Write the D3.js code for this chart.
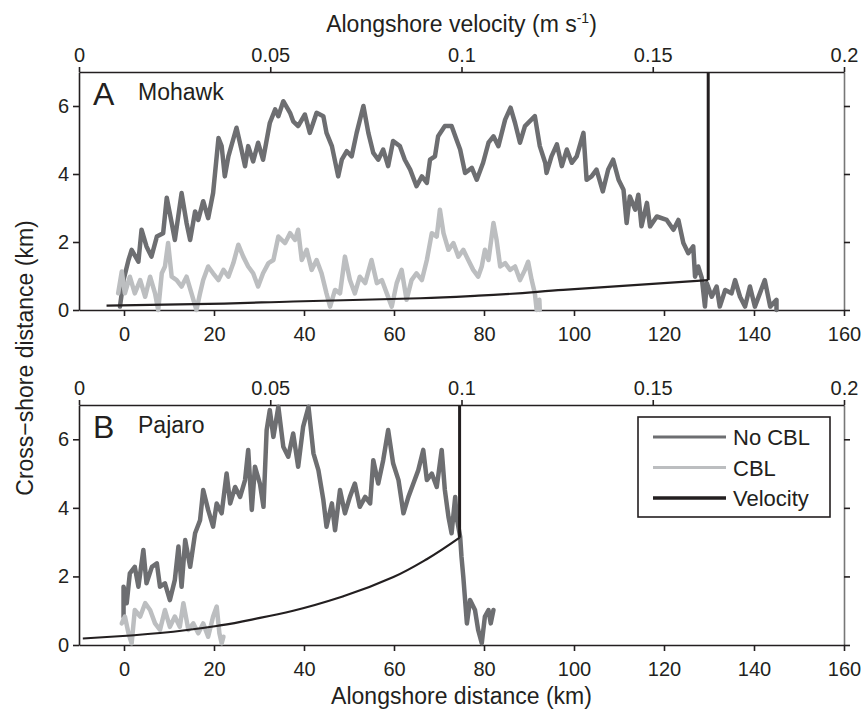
<!DOCTYPE html>
<html>
<head>
<meta charset="utf-8">
<script src="https://cdn.jsdelivr.net/npm/d3@7"></script>
<style>
  body { margin: 0; background: #fff; }
  svg { display: block; font-family: 'Liberation Sans', Arial, sans-serif; }
</style>
</head>
<body>
<div id="chart"></div>
<script>
// tick values
const distTicks = [0, 20, 40, 60, 80, 100, 120, 140, 160];
const velTicks = [0, 0.05, 0.1, 0.15, 0.2];
const velTickLabels = ['0', '0.05', '0.1', '0.15', '0.2'];
const crossTicks = [0, 2, 4, 6];

// tracks: [alongshore km, cross-shore km]
const mohawkNoCbl = [[-0.9,0.1],[-0.1,0.88],[1.0,1.47],[1.7,1.77],[3.2,1.42],[3.9,2.36],[5.0,1.87],[6.1,1.57],[7.3,2.16],[8.7,2.26],[9.5,3.3],[10.6,2.56],[11.3,2.06],[12.8,3.44],[13.9,2.56],[14.7,2.06],[15.8,2.9],[16.5,2.65],[17.6,3.2],[18.7,2.7],[19.8,3.44],[21.0,5.06],[21.7,4.82],[22.4,3.93],[23.2,4.52],[25.0,5.36],[26.1,4.72],[26.9,4.23],[27.6,4.82],[28.7,4.37],[29.8,4.92],[30.9,4.42],[32.4,5.5],[33.6,5.9],[34.3,5.7],[35.4,6.14],[36.9,5.8],[37.6,5.55],[38.7,5.41],[40.2,5.75],[41.3,5.21],[42.8,5.8],[44.3,5.7],[45.0,5.21],[46.2,4.82],[47.6,3.93],[48.4,4.42],[49.5,4.67],[50.6,4.52],[51.7,5.21],[53.2,6.0],[54.3,5.21],[55.4,4.62],[56.5,4.42],[57.6,4.72],[58.7,4.23],[59.8,4.97],[61.3,4.82],[62.4,4.42],[63.6,4.13],[65.0,3.64],[66.2,3.93],[67.3,3.74],[68.0,4.42],[69.1,4.52],[69.8,5.11],[71.3,5.41],[72.8,5.41],[73.9,5.01],[74.7,4.72],[75.8,4.03],[77.3,4.18],[78.4,3.83],[79.8,4.33],[81.0,4.92],[82.1,5.11],[83.2,4.82],[84.7,5.6],[85.9,5.95],[86.9,5.5],[88.0,4.92],[89.1,5.41],[91.3,5.7],[92.4,4.82],[93.6,4.33],[93.9,4.03],[95.0,4.52],[96.2,4.87],[97.3,4.23],[98.4,4.72],[99.5,4.33],[100.6,4.52],[102.1,5.21],[102.8,3.83],[103.9,3.93],[105.0,4.13],[106.4,3.49],[107.6,4.13],[108.7,4.42],[109.9,3.83],[111.0,3.54],[111.7,2.56],[112.4,3.34],[113.6,2.95],[114.3,3.39],[115.0,2.46],[116.2,3.15],[116.9,2.46],[118.4,2.75],[120.6,2.65],[122.1,2.36],[123.2,2.65],[124.3,1.97],[125.4,1.67],[126.5,1.87],[126.9,0.98],[127.6,1.28],[128.4,0.94],[129.1,0.1],[129.5,0.79],[130.6,0.39],[131.7,0.69],[132.4,0.1],[133.6,0.59],[135.0,0.49],[135.8,0.88],[136.9,0.39],[138.0,0.1],[139.1,0.69],[140.2,0.1],[141.3,0.49],[142.4,0.88],[143.6,0.1],[145.0,0.3],[145.0,0.0]];

const mohawkCbl = [[-1.3,0.49],[-0.5,1.13],[0.2,0.49],[1.3,0.98],[2.4,0.49],[3.6,0.88],[4.7,0.39],[5.8,0.98],[6.9,0.49],[7.6,0.0],[8.4,1.08],[9.1,1.28],[9.8,1.97],[10.6,0.98],[11.7,0.88],[12.8,0.69],[13.9,0.98],[15.0,0.49],[16.1,0.0],[16.9,0.49],[17.6,0.88],[18.7,1.28],[19.8,1.08],[21.0,0.88],[22.1,1.18],[23.2,0.98],[24.3,1.38],[25.4,1.92],[26.5,1.57],[27.6,1.28],[28.7,1.08],[29.8,0.69],[30.9,1.08],[32.1,1.38],[33.2,1.47],[34.3,2.16],[35.8,1.97],[36.9,2.26],[38.0,2.06],[38.7,2.36],[39.5,1.47],[40.6,1.77],[41.7,1.18],[42.8,1.47],[43.9,1.08],[45.0,0.49],[45.8,0.1],[46.9,0.59],[48.0,0.49],[49.1,1.57],[50.2,0.88],[51.3,0.49],[52.4,0.98],[53.6,0.79],[55.0,1.47],[56.2,0.79],[57.3,0.88],[58.4,0.49],[59.5,0.1],[60.6,0.79],[61.7,1.18],[62.8,0.3],[63.9,0.88],[65.0,1.08],[66.2,0.88],[67.3,1.47],[68.4,2.26],[69.5,2.16],[70.2,2.95],[71.0,2.26],[72.1,1.77],[73.2,1.97],[74.3,1.57],[75.4,1.77],[76.5,1.47],[77.6,1.18],[78.7,0.98],[79.5,1.28],[80.2,1.77],[81.0,1.47],[82.1,2.56],[82.8,2.06],[83.6,1.28],[84.7,1.38],[85.8,1.18],[86.9,1.28],[88.0,0.88],[89.1,1.18],[89.8,1.42],[90.6,0.88],[91.3,0.49],[91.7,0.0],[92.3,0.3],[92.4,0.0]];

const pajaroNoCbl = [[-0.1,0.82],[-0.1,1.7],[0.6,1.22],[1.3,2.09],[2.4,2.28],[3.2,1.7],[4.3,2.77],[5.0,1.8],[6.2,2.28],[7.3,2.38],[8.0,1.7],[9.1,1.8],[10.2,1.31],[11.3,1.9],[12.1,2.87],[12.8,1.7],[13.6,3.06],[14.7,2.28],[15.8,3.26],[16.9,3.64],[17.6,4.52],[18.7,3.94],[19.8,3.45],[20.6,4.13],[21.7,3.84],[22.8,5.0],[23.6,4.13],[24.7,4.61],[25.8,4.32],[26.9,4.81],[27.6,5.69],[28.4,3.94],[29.1,5.2],[30.2,4.71],[31.0,4.03],[31.7,6.27],[32.4,6.85],[33.2,6.07],[34.3,6.95],[35.4,5.78],[36.5,5.49],[37.6,6.17],[38.7,5.2],[39.8,6.36],[41.0,6.95],[42.1,5.59],[43.2,5.1],[44.3,4.23],[45.0,3.45],[46.2,4.13],[46.9,3.35],[48.0,4.52],[49.1,3.84],[50.2,4.32],[51.3,4.71],[52.4,4.03],[53.6,4.32],[54.7,4.13],[55.4,5.39],[56.5,4.71],[57.6,5.39],[58.7,6.27],[59.8,5.3],[61.0,4.81],[62.1,3.84],[63.2,4.32],[64.3,4.71],[65.4,5.1],[66.5,5.69],[67.3,4.81],[68.4,5.0],[69.5,4.61],[70.6,5.69],[71.3,4.52],[72.1,3.74],[72.8,3.26],[73.6,4.32],[73.9,3.74],[74.7,3.16],[75.0,2.57],[75.4,1.99],[75.8,1.31],[76.2,0.63],[76.9,1.31],[78.0,1.02],[78.7,0.44],[79.5,0.05],[80.2,0.83],[81.0,1.02],[81.5,0.63],[82.1,1.02]];

const pajaroCbl = [[-0.5,0.63],[0.2,0.83],[1.0,0.34],[1.7,0.05],[2.4,1.02],[3.6,0.83],[4.7,1.22],[5.8,1.02],[6.9,0.63],[8.0,0.44],[9.1,1.02],[10.2,0.53],[11.3,0.83],[12.4,0.53],[13.2,1.22],[14.3,0.44],[15.4,0.63],[16.5,0.34],[17.6,0.63],[18.7,0.24],[19.8,0.83],[20.6,1.12],[21.2,0.34],[21.7,0.05],[22.1,0.24]];

// velocity profiles: [alongshore velocity m/s, cross-shore km]
const mohawkVelocity = [[0.0072,0.13],[0.03,0.17],[0.056,0.25],[0.0892,0.345],[0.1044,0.42],[0.1266,0.59],[0.1645,0.88],[0.1645,7]];
const pajaroVelocity = [[0.001,0.19],[0.0125,0.27],[0.0212,0.35],[0.0369,0.57],[0.0473,0.79],[0.056,1.0],[0.0691,1.42],[0.0822,1.98],[0.0909,2.5],[0.0995,3.13],[0.0995,7]];

const legendItems = ['No CBL', 'CBL', 'Velocity'];
const colors = { 'No CBL': '#6d6e71', 'CBL': '#bcbec0', 'Velocity': '#231f20' };

var width = 861, height = 710;
var left = 79, right = 844;

var svg = d3.select('#chart').append('svg')
    .attr('width', width)
    .attr('height', height);

var x = d3.scaleLinear().domain([-10, 160]).range([left, right]);
var u = d3.scaleLinear().domain([0, 0.2]).range([left, right]);

function styleAxis(g, color) {
    g.select('.domain').attr('stroke', color).attr('stroke-width', 1.6);
    g.selectAll('.tick line').attr('stroke', '#231f20').attr('stroke-width', 1.6);
    g.selectAll('.tick text').attr('fill', '#231f20').attr('font-size', 20)
        .attr('font-family', "'Liberation Sans', Arial, sans-serif");
}

function panel(top, bottom, noCbl, cbl, vel, letter, name) {
    var y = d3.scaleLinear().domain([0, 7]).range([bottom, top]);

    var track = d3.line()
        .x(d => x(d[0]))
        .y(d => y(d[1]));
    var profile = d3.line()
        .x(d => u(d[0]))
        .y(d => y(d[1]))
        .curve(d3.curveMonotoneY);

    svg.append('g')
        .attr('transform', `translate(${right},0)`)
        .call(d3.axisRight(y).tickValues(crossTicks).tickSize(6).tickSizeOuter(0).tickFormat(''))
        .call(g => styleAxis(g, '#777'));

    svg.append('g')
        .attr('transform', `translate(${left},0)`)
        .call(d3.axisLeft(y).tickValues(crossTicks).tickSize(6).tickSizeOuter(0).tickPadding(4)
            .tickFormat(d3.format('d')))
        .call(g => styleAxis(g, '#231f20'));

    svg.append('g')
        .attr('transform', `translate(0,${top})`)
        .call(d3.axisTop(u).tickValues(velTicks).tickSize(5).tickSizeOuter(0).tickPadding(5)
            .tickFormat((d, i) => velTickLabels[i]))
        .call(g => styleAxis(g, '#231f20'));

    svg.append('g')
        .attr('transform', `translate(0,${bottom})`)
        .call(d3.axisBottom(x).tickValues(distTicks).tickSize(6).tickSizeOuter(0).tickPadding(11))
        .call(g => styleAxis(g, '#231f20'));

    svg.append('path')
        .attr('fill', 'none')
        .attr('stroke', colors['No CBL'])
        .attr('stroke-width', 4.5)
        .attr('stroke-linejoin', 'round')
        .attr('stroke-linecap', 'round')
        .attr('d', track(noCbl));

    svg.append('path')
        .attr('fill', 'none')
        .attr('stroke', colors['CBL'])
        .attr('stroke-width', 4.5)
        .attr('stroke-linejoin', 'round')
        .attr('stroke-linecap', 'round')
        .attr('d', track(cbl));

    svg.append('path')
        .attr('fill', 'none')
        .attr('stroke', colors['Velocity'])
        .attr('stroke-width', 2.2)
        .attr('d', profile(vel.slice(0, -1)));

    // vertical part above the shear layer
    svg.append('path')
        .attr('fill', 'none')
        .attr('stroke', colors['Velocity'])
        .attr('stroke-width', 3)
        .attr('d', profile(vel.slice(-2)));

    svg.append('text')
        .attr('x', 93).attr('y', y(7) + 33)
        .attr('font-size', 32).attr('fill', '#231f20')
        .text(letter);
    svg.append('text')
        .attr('x', 138).attr('y', y(7) + 28)
        .attr('font-size', 23).attr('fill', '#231f20')
        .text(name);

    return y;
}

panel(72, 310, mohawkNoCbl, mohawkCbl, mohawkVelocity, 'A', 'Mohawk');
panel(405, 645, pajaroNoCbl, pajaroCbl, pajaroVelocity, 'B', 'Pajaro');

// axis titles
var title = svg.append('text')
    .attr('x', (left + right) / 2).attr('y', 32)
    .attr('text-anchor', 'middle')
    .attr('font-size', 23).attr('fill', '#231f20');
title.append('tspan').text('Alongshore velocity (m s');
title.append('tspan').attr('font-size', 14).attr('dy', -9).text('-1');
title.append('tspan').attr('dy', 9).text(')');

svg.append('text')
    .attr('x', (left + right) / 2).attr('y', 704)
    .attr('text-anchor', 'middle')
    .attr('font-size', 23).attr('fill', '#231f20')
    .text('Alongshore distance (km)');

svg.append('text')
    .attr('transform', 'translate(33,358) rotate(-90)')
    .attr('text-anchor', 'middle')
    .attr('font-size', 23).attr('fill', '#231f20')
    .text('Cross\u2212shore distance (km)');

// legend
var legend = svg.append('g');
legend.append('rect')
    .attr('x', 638).attr('y', 417)
    .attr('width', 192).attr('height', 100)
    .attr('fill', '#fff')
    .attr('stroke', '#231f20')
    .attr('stroke-width', 1.6);

legendItems.forEach((k, i) => {
    var ly = 437 + i * 30.5;
    legend.append('line')
        .attr('x1', 653).attr('x2', 726)
        .attr('y1', ly).attr('y2', ly)
        .attr('stroke', colors[k])
        .attr('stroke-width', k == 'Velocity' ? 3.5 : 3);
    legend.append('text')
        .attr('x', 733).attr('y', ly + 8)
        .attr('font-size', 22).attr('fill', '#231f20')
        .text(k);
});
</script>
</body>
</html>
